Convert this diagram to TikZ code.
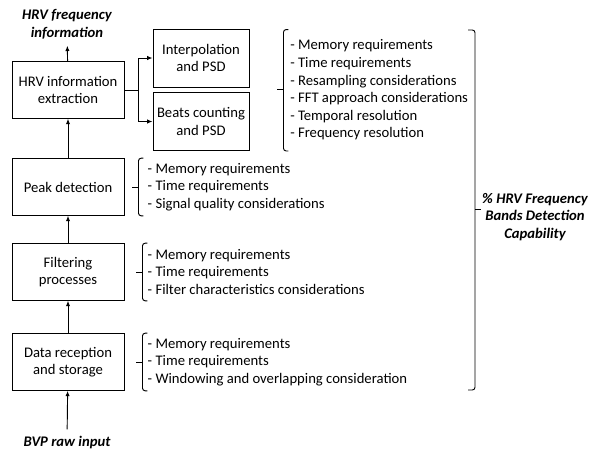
\documentclass[tikz,border=0pt]{standalone}
\usepackage{fontspec}
\setmainfont{Carlito}
\usepackage{tikz}
\usetikzlibrary{calc,positioning,arrows.meta}

\begin{document}
\begin{tikzpicture}[x=0.75pt,y=-0.75pt,
		font=\fontsize{11}{13.2}\selectfont,
		stage/.style={draw,line width=0.7pt,minimum width=84pt,minimum height=42.5pt,inner sep=0pt,align=center},
		method/.style={stage,minimum width=72pt,minimum height=43.5pt},
		items/.style={inner sep=0pt,align=left,anchor=west},
		tag/.style={font=\fontsize{11}{13.2}\selectfont\bfseries\itshape,align=center,inner sep=0pt},
		arr/.style={-{Latex[length=4pt,width=3.2pt]},line width=0.7pt},
		brk/.style={line width=0.7pt,rounded corners=2pt}]
		\useasboundingbox (0,0) rectangle (591,450);
		% processing chain
		\node(ext) [stage] at (68,90) {HRV information\\extraction};
		\node(peak) [stage] at (68,187) {Peak detection};
		\node(filt) [stage] at (68,272) {Filtering\\processes};
		\node(data) [stage] at (68,362) {Data reception\\and storage};
		\node(out) [tag,inner ysep=5pt] at (67,24) {HRV frequency\\information};
		\node(in) [tag,inner ysep=4.5pt,anchor=base] at (67,446) {BVP raw input};
		\path[arr]
			(in) edge (data)
			(data) edge (filt)
			(filt) edge (peak)
			(peak) edge (ext)
			(ext) edge (out);
		% two PSD methods
		\node(interp) [method] at (201,58) {Interpolation\\and PSD};
		\node(beats) [method] at (201,121.5) {Beats counting\\and PSD};
		\coordinate(split) at ($(ext.east)+(14,0)$);
		\draw[line width=0.7pt] (ext.east) -- (split);
		\draw[arr] (split) |- (interp.west);
		\draw[arr] (split) |- (beats.west);
		% considerations
		\node(l1) [items] at (290,90) {- Memory requirements\\- Time requirements\\- Resampling considerations\\- FFT approach considerations\\- Temporal resolution\\- Frequency resolution};
		\node(l2) [items,right=17.25pt of peak.east] {- Memory requirements\\- Time requirements\\- Signal quality considerations};
		\node(l3) [items,right=17.25pt of filt.east] {- Memory requirements\\- Time requirements\\- Filter characteristics considerations};
		\node(l4) [items,right=17.25pt of data.east] {- Memory requirements\\- Time requirements\\- Windowing and overlapping consideration};
		\draw[brk] ($(interp.north east)+(39,1)$) -- ($(interp.north east)+(34,1)$) -- ($(beats.south east)+(34,0)$) -- ($(beats.south east)+(39,0)$);
		\draw[line width=0.7pt] ($(interp.north east)!0.5!(beats.south east)+(34,0)$) -- ++(-6,0);
		\foreach \n/\o in {peak/14,filt/18,data/18}{
			\draw[brk] ($(\n.north east)+(\o+5,0)$) -- ($(\n.north east)+(\o,0)$) -- ($(\n.south east)+(\o,0)$) -- ($(\n.south east)+(\o+5,0)$);
			\draw[line width=0.7pt] ($(\n.east)+(\o,0)$) -- ++(-6,0);
		}
		% overall capability
		\coordinate(bt) at (468,30);
		\coordinate(bb) at (468,390);
		\draw[brk] (bt) -- ($(bt)+(7,0)$) -- ($(bb)+(7,0)$) -- (bb);
		\draw[line width=0.7pt] (475,209) -- ++(6,0);
		\node(cap) [tag] at (535,217) {\% HRV Frequency\\Bands Detection\\Capability};
	\end{tikzpicture}
\end{document}
